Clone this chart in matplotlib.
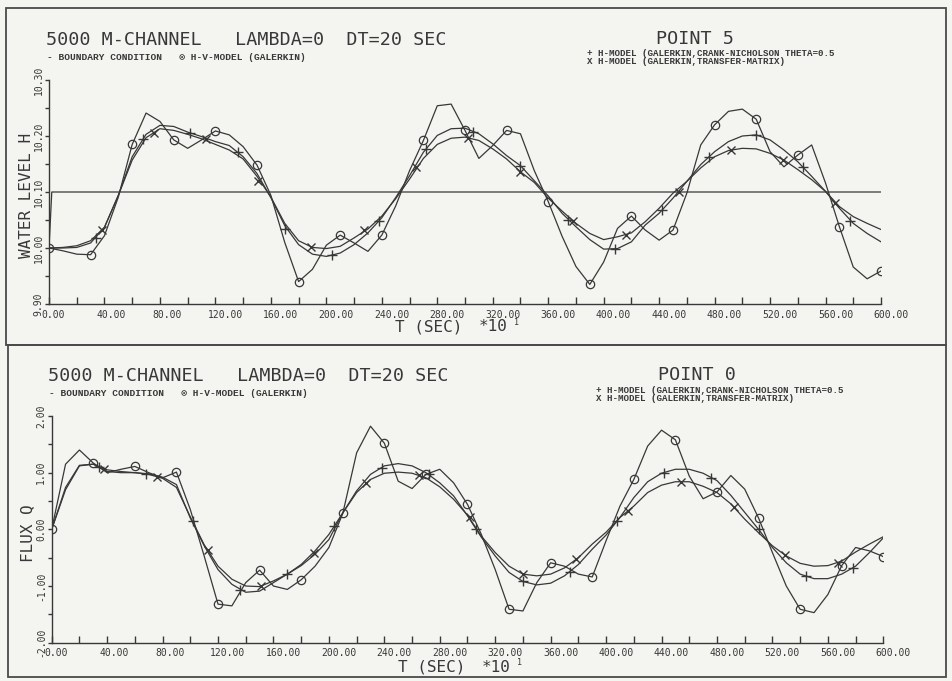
import matplotlib
matplotlib.use('Agg')
import matplotlib.pyplot as plt
import matplotlib.transforms as mtransforms
from matplotlib.patches import Rectangle
from matplotlib.ticker import FormatStrFormatter

# Time axis in units of 10 s (the plot says T (SEC) *10^1).
TIME = list(range(0, 601, 10))

# --- Point 5: water level H ------------------------------------------------
H_HV_GALERKIN = [
    10.000, 9.995, 9.989, 9.988, 10.022, 10.091, 10.185, 10.241, 10.226, 10.193,
    10.178, 10.193, 10.209, 10.202, 10.181, 10.148, 10.094, 10.010, 9.940, 9.962,
    10.005, 10.023, 10.009, 9.994, 10.023, 10.075, 10.138, 10.192, 10.254, 10.257,
    10.210, 10.160, 10.183, 10.210, 10.204, 10.138, 10.083, 10.021, 9.967, 9.935,
    9.975, 10.035, 10.057, 10.032, 10.014, 10.032, 10.098, 10.184, 10.220, 10.244,
    10.248, 10.230, 10.172, 10.145, 10.166, 10.184, 10.116, 10.038, 9.966, 9.945,
    9.959,
]
H_CRANK_NICHOLSON = [
    10.000, 10.000, 10.001, 10.009, 10.037, 10.094, 10.163, 10.203, 10.219, 10.217,
    10.207, 10.199, 10.190, 10.183, 10.163, 10.133, 10.090, 10.040, 10.006, 9.989,
    9.985, 9.991, 10.006, 10.027, 10.054, 10.090, 10.129, 10.171, 10.201, 10.213,
    10.214, 10.204, 10.186, 10.165, 10.147, 10.120, 10.093, 10.062, 10.038, 10.015,
    9.998, 9.999, 10.011, 10.041, 10.062, 10.089, 10.119, 10.149, 10.172, 10.190,
    10.200, 10.202, 10.193, 10.175, 10.154, 10.128, 10.101, 10.071, 10.044, 10.026,
    10.011,
]
H_TRANSFER = [
    10.000, 10.001, 10.004, 10.013, 10.037, 10.094, 10.157, 10.197, 10.213, 10.210,
    10.203, 10.195, 10.185, 10.175, 10.159, 10.128, 10.091, 10.044, 10.013, 10.001,
    9.999, 10.003, 10.018, 10.034, 10.057, 10.088, 10.123, 10.160, 10.185, 10.196,
    10.198, 10.192, 10.177, 10.159, 10.136, 10.117, 10.089, 10.066, 10.044, 10.026,
    10.015, 10.020, 10.027, 10.047, 10.071, 10.098, 10.119, 10.143, 10.163, 10.174,
    10.178, 10.177, 10.169, 10.157, 10.140, 10.122, 10.101, 10.074, 10.056, 10.044,
    10.033,
]
BOUNDARY_TIME = [0, 2, 600]
BOUNDARY_LEVEL = [10.00, 10.10, 10.10]

# marker positions of the two H-models (plotter put them at their own spacing)
T_PLUS = [34, 68, 102, 136, 170, 204, 238, 272, 306, 340, 374, 408, 442, 476, 510, 544, 578]
T_CROSS = [38, 76, 113, 151, 189, 227, 265, 302, 340, 378, 416, 454, 492, 529, 567]
H_PLUS_MARKS = [10.018, 10.195, 10.206, 10.172, 10.034, 9.987, 10.049, 10.177, 10.208,
                10.147, 10.050, 9.999, 10.067, 10.163, 10.202, 10.144, 10.049]
H_CROSS_MARKS = [10.032, 10.206, 10.194, 10.120, 10.002, 10.032, 10.144, 10.197, 10.136,
                 10.048, 10.024, 10.100, 10.175, 10.158, 10.081]

# --- Point 0: flux Q -------------------------------------------------------
Q_HV_GALERKIN = [
    0.00, 1.15, 1.40, 1.17, 1.00, 1.06, 1.11, 1.00, 0.91, 1.01,
    0.35, -0.47, -1.32, -1.35, -0.94, -0.72, -1.00, -1.06, -0.89, -0.65,
    -0.32, 0.28, 1.35, 1.82, 1.52, 0.85, 0.72, 0.97, 1.06, 0.82,
    0.44, -0.09, -0.71, -1.41, -1.44, -0.94, -0.59, -0.65, -0.79, -0.84,
    -0.20, 0.41, 0.88, 1.47, 1.75, 1.58, 0.94, 0.54, 0.66, 0.95,
    0.71, 0.20, -0.41, -1.00, -1.41, -1.47, -1.15, -0.64, -0.32, -0.38,
    -0.48,
]
Q_CRANK_NICHOLSON = [
    0.00, 0.74, 1.13, 1.15, 1.02, 1.00, 1.00, 0.98, 0.92, 0.79,
    0.20, -0.29, -0.71, -0.97, -1.11, -1.09, -0.94, -0.79, -0.62, -0.38,
    -0.09, 0.29, 0.68, 0.97, 1.12, 1.16, 1.12, 1.00, 0.82, 0.59,
    0.24, -0.14, -0.47, -0.76, -0.92, -0.98, -0.95, -0.82, -0.62, -0.35,
    -0.10, 0.21, 0.56, 0.84, 0.99, 1.06, 1.06, 0.99, 0.86, 0.60,
    0.30, 0.00, -0.32, -0.59, -0.79, -0.87, -0.87, -0.79, -0.65, -0.41,
    -0.15,
]
Q_TRANSFER = [
    0.00, 0.70, 1.12, 1.15, 1.05, 1.02, 1.00, 0.97, 0.90, 0.74,
    0.22, -0.27, -0.65, -0.88, -1.00, -1.01, -0.91, -0.79, -0.64, -0.44,
    -0.18, 0.29, 0.65, 0.88, 0.99, 1.01, 0.99, 0.91, 0.75, 0.53,
    0.25, -0.12, -0.41, -0.65, -0.79, -0.82, -0.79, -0.68, -0.50, -0.26,
    -0.05, 0.21, 0.41, 0.65, 0.78, 0.84, 0.84, 0.76, 0.65, 0.45,
    0.18, -0.06, -0.29, -0.47, -0.60, -0.65, -0.64, -0.56, -0.40, -0.26,
    -0.13,
]
Q_PLUS_MARKS = [1.10, 0.98, 0.15, -1.07, -0.79, 0.06, 1.09, 0.97, 0.01, -0.92,
                -0.76, 0.14, 1.00, 0.90, 0.00, -0.82, -0.68]
Q_CROSS_MARKS = [1.07, 0.92, -0.36, -1.00, -0.42, 0.82, 0.96, 0.22, -0.79, -0.53,
                 0.33, 0.84, 0.39, -0.46, -0.59]

TITLE = '5000 M-CHANNEL   LAMBDA=0  DT=20 SEC'
LEFT_KEY = '- BOUNDARY CONDITION   \u2299 H-V-MODEL (GALERKIN)'
RIGHT_KEY = ('+ H-MODEL (GALERKIN,CRANK-NICHOLSON THETA=0.5\n'
             'X H-MODEL (GALERKIN,TRANSFER-MATRIX)')

W, H = 952, 681
PAPER = '#f4f4f1'
INK = '#383838'
MONO = 'DejaVu Sans Mono'
SMALL = ['Liberation Mono', 'DejaVu Sans Mono']


def px(x):
    return x / W


def py(y):
    return 1 - y / H


def style_axis(ax, ylim, ymajor, yminor):
    ax.set_facecolor('none')
    ax.set_xlim(0, 600)
    ax.set_ylim(*ylim)
    for side in ('top', 'right'):
        ax.spines[side].set_visible(False)
    for side in ('left', 'bottom'):
        ax.spines[side].set_color(INK)
        ax.spines[side].set_linewidth(1.0)
    ax.set_xticks(range(0, 601, 40))
    ax.set_xticks(range(0, 601, 20), minor=True)
    ax.set_yticks(ymajor)
    ax.set_yticks(yminor, minor=True)
    ax.xaxis.set_major_formatter(FormatStrFormatter('%.2f'))
    ax.yaxis.set_major_formatter(FormatStrFormatter('%.2f'))
    ax.tick_params(axis='x', which='both', direction='in', length=5, width=1,
                   color=INK, labelcolor=INK, labelsize=7, pad=4)
    ax.tick_params(axis='y', which='both', direction='out', length=3, width=1,
                   color=INK, labelcolor=INK, labelsize=7, pad=1, labelrotation=90)
    for lab in ax.get_xticklabels():
        lab.set_family(MONO)
        lab.set_horizontalalignment('left')
        lab.set_transform(lab.get_transform() + shift)
    for lab in ax.get_yticklabels():
        lab.set_family(MONO)
        lab.set_verticalalignment('center')


def draw_models(ax, hv, cn, tm, plus_marks, cross_marks):
    line_kw = dict(color=INK, lw=0.9)
    ax.plot(TIME, tm, **line_kw)
    ax.plot(TIME, cn, **line_kw)
    ax.plot(TIME, hv, marker='o', markevery=3, ms=6, mew=0.9, mfc='none',
            mec=INK, **line_kw)
    ax.plot(T_PLUS, plus_marks, ls='none', marker='+', ms=7, mew=1.0, color=INK)
    ax.plot(T_CROSS, cross_marks, ls='none', marker='x', ms=5.5, mew=1.0, color=INK)


def header(y_title, y_key, x_left, x_point, point_label, x_right, y_right):
    fig.text(px(x_left), py(y_title), TITLE, family=MONO, fontsize=13.2,
             color=INK, va='center', ha='left')
    fig.text(px(x_left + 1), py(y_key), LEFT_KEY, family=SMALL, fontsize=6.8,
             weight='bold', color=INK, va='center', ha='left')
    fig.text(px(x_point), py(y_title - 1), point_label, family=MONO, fontsize=13.2,
             color=INK, va='center', ha='left')
    fig.text(px(x_right), py(y_right), RIGHT_KEY, family=SMALL, fontsize=6.6,
             weight='bold', color=INK, va='center', ha='left', linespacing=0.78)


def time_label(x, y):
    fig.text(px(x), py(y), 'T (SEC)', family=MONO, fontsize=11.5, color=INK,
             va='center', ha='left')
    fig.text(px(x + 84), py(y), '*10', family=MONO, fontsize=11.5, color=INK,
             va='center', ha='left')
    fig.text(px(x + 119), py(y - 4.5), '1', family=MONO, fontsize=6, color=INK,
             va='center', ha='left')


fig = plt.figure(figsize=(W / 100, H / 100), dpi=100)
fig.patch.set_facecolor(PAPER)
shift = mtransforms.ScaledTranslation(-7.7 / 100, 0, fig.dpi_scale_trans)

# panel frames
for (x0, y0, x1, y1) in [(6, 8, 946, 345), (8, 345, 946, 677)]:
    fig.patches.append(Rectangle((px(x0), py(y1)), px(x1 - x0), (y1 - y0) / H,
                                 transform=fig.transFigure, fill=False,
                                 edgecolor='#4a4a4a', lw=1.3))

# top panel: water level at point 5
ax_h = fig.add_axes([px(49), py(304), px(881 - 49), (304 - 80) / H])
style_axis(ax_h, (9.90, 10.30), [9.90, 10.00, 10.10, 10.20, 10.30],
           [9.95, 10.05, 10.15, 10.25])
ax_h.plot(BOUNDARY_TIME, BOUNDARY_LEVEL, color=INK, lw=0.9)
draw_models(ax_h, H_HV_GALERKIN, H_CRANK_NICHOLSON, H_TRANSFER,
            H_PLUS_MARKS, H_CROSS_MARKS)
fig.text(px(26.5), py(195), 'WATER LEVEL H', family=MONO, fontsize=11.5,
         color=INK, rotation=90, ha='center', va='center')
header(40, 57.3, 45.7, 656, 'POINT 5', 587, 57.5)
time_label(395, 327)

# bottom panel: flux at point 0
ax_q = fig.add_axes([px(51.7), py(642.7), px(883.3 - 51.7), (642.7 - 416) / H])
style_axis(ax_q, (-2.0, 2.0), [-2.0, -1.0, 0.0, 1.0, 2.0],
           [-1.5, -0.5, 0.5, 1.5])
draw_models(ax_q, Q_HV_GALERKIN, Q_CRANK_NICHOLSON, Q_TRANSFER,
            Q_PLUS_MARKS, Q_CROSS_MARKS)
fig.text(px(28), py(533), 'FLUX Q', family=MONO, fontsize=11.5,
         color=INK, rotation=90, ha='center', va='center')
header(376, 393.3, 48.3, 658, 'POINT 0', 596, 394.5)
time_label(398, 667)

fig.savefig('out.png', dpi=100, facecolor=PAPER)
